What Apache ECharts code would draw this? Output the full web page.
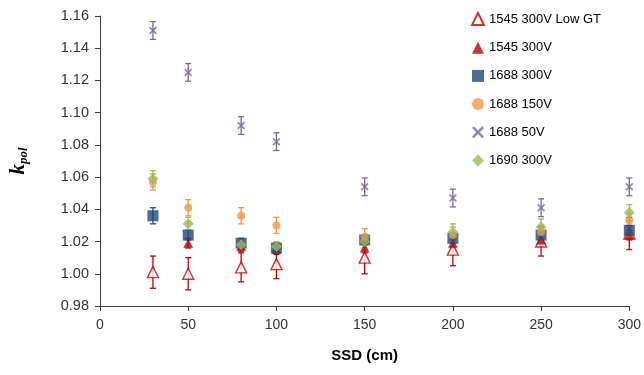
<!DOCTYPE html>
<html>
<head>
<meta charset="utf-8">
<script src="https://cdn.jsdelivr.net/npm/echarts@6/dist/echarts.min.js"></script>
<style>
  html, body { margin: 0; padding: 0; background: #fff; }
  #chart { width: 644px; height: 375px; }
</style>
</head>
<body>
<div id="chart"></div>
<script>
// SSD positions (cm)
var ssdAll = [30, 50, 80, 100, 150, 200, 250, 300];
var ssdNo30 = [50, 80, 100, 150, 200, 250, 300];

// k_pol values and error bar half-widths
var lowGT = [1.001, 1.000, 1.004, 1.006, 1.010, 1.015, 1.020, 1.025];
var lowGTErr = [0.010, 0.010, 0.009, 0.009, 0.010, 0.010, 0.009, 0.010];

var v1545 = [1.019, 1.017, 1.015, 1.016, 1.019, 1.021, 1.024];
var v1545Err = [0.003, 0.003, 0.003, 0.003, 0.003, 0.003, 0.003];

var v1688_300 = [1.036, 1.024, 1.019, 1.016, 1.021, 1.022, 1.024, 1.027];
var v1688_300Err = [0.005, 0.003, 0.003, 0.003, 0.003, 0.003, 0.003, 0.003];

var v1688_150 = [1.057, 1.041, 1.036, 1.030, 1.023, 1.024, 1.026, 1.033];
var v1688_150Err = [0.005, 0.005, 0.005, 0.005, 0.005, 0.005, 0.004, 0.004];

var v1688_50 = [1.151, 1.125, 1.092, 1.082, 1.054, 1.047, 1.041, 1.054];
var v1688_50Err = [0.0055, 0.0055, 0.0055, 0.0055, 0.0055, 0.0055, 0.0055, 0.0055];

var v1690 = [1.059, 1.031, 1.018, 1.017, 1.020, 1.026, 1.029, 1.038];
var v1690Err = [0.005, 0.004, 0.003, 0.003, 0.004, 0.005, 0.005, 0.005];

var names = ["1545 300V Low GT", "1545 300V", "1688 300V", "1688 150V", "1688 50V", "1690 300V"];

var chart = echarts.init(document.getElementById("chart"));

function pts(xs, ys) {
  return xs.map(function (x, i) { return [x, ys[i]]; });
}
function errPts(xs, ys, es) {
  return xs.map(function (x, i) { return [x, ys[i], es[i]]; });
}

// 误差线
function renderErr(params, api) {
  var x = api.value(0), y = api.value(1), e = api.value(2);
  var top = api.coord([x, y + e]);
  var bot = api.coord([x, y - e]);
  var c = api.visual("color");
  var w = 3;
  var st = { stroke: c, lineWidth: 1.3 };
  return {
    type: "group",
    children: [
      { type: "line", shape: { x1: top[0], y1: top[1], x2: bot[0], y2: bot[1] }, style: st },
      { type: "line", shape: { x1: top[0] - w, y1: top[1], x2: top[0] + w, y2: top[1] }, style: st },
      { type: "line", shape: { x1: bot[0] - w, y1: bot[1], x2: bot[0] + w, y2: bot[1] }, style: st }
    ]
  };
}
function errSeries(id, color, data) {
  return {
    type: "custom",
    name: id,
    renderItem: renderErr,
    data: data,
    itemStyle: { color: color },
    z: 1,
    silent: true
  };
}

var xMark = "path://M0,1.5 L1.5,0 L5,3.5 L8.5,0 L10,1.5 L6.5,5 L10,8.5 L8.5,10 L5,6.5 L1.5,10 L0,8.5 L3.5,5 Z";

var red = "#C00000", blue = "#1F497D", orange = "#F79646", purple = "#7F64A2", green = "#9BBB59";

var option = {
  animation: false,
  textStyle: { fontFamily: "Liberation Sans, Arial, sans-serif" },
  grid: { left: 97, right: 14, top: 16, bottom: 69 },
  legend: {
    data: names,
    orient: "vertical",
    left: 466,
    top: 7,
    itemWidth: 12,
    itemHeight: 12,
    itemGap: 15.2,
    textStyle: { fontSize: 13, color: "#000" }
  },
  xAxis: {
    type: "value",
    min: 0,
    max: 300,
    interval: 50,
    name: "SSD (cm)",
    nameLocation: "middle",
    nameGap: 42,
    nameTextStyle: { fontSize: 15, fontWeight: "bold", color: "#000" },
    splitLine: { show: false },
    axisLine: { lineStyle: { color: "#404040", width: 1 } },
    axisTick: { show: true, length: 5, lineStyle: { color: "#404040" } },
    axisLabel: { fontSize: 14, color: "#333", margin: 12 }
  },
  yAxis: {
    type: "value",
    min: 0.98,
    max: 1.16,
    interval: 0.02,
    name: "{k|k}{s|pol}",
    nameLocation: "middle",
    nameGap: 70,
    nameRotate: 90,
    nameTextStyle: {
      rich: {
        k: { fontSize: 21, fontWeight: "bold", fontStyle: "italic", color: "#000", fontFamily: "Liberation Serif, serif" },
        s: { fontSize: 13, fontWeight: "bold", fontStyle: "italic", color: "#000", fontFamily: "Liberation Serif, serif", padding: [10, 0, 0, 0] }
      }
    },
    splitLine: { show: false },
    axisLine: { show: true, lineStyle: { color: "#404040", width: 1 } },
    axisTick: { show: true, length: 5, lineStyle: { color: "#404040" } },
    axisLabel: {
      fontSize: 14.5,
      color: "#333",
      margin: 11,
      formatter: function (v) { return v.toFixed(2); }
    }
  },
  series: [
    errSeries("e0", red, errPts(ssdAll, lowGT, lowGTErr)),
    errSeries("e1", red, errPts(ssdNo30, v1545, v1545Err)),
    errSeries("e2", blue, errPts(ssdAll, v1688_300, v1688_300Err)),
    errSeries("e3", orange, errPts(ssdAll, v1688_150, v1688_150Err)),
    errSeries("e4", purple, errPts(ssdAll, v1688_50, v1688_50Err)),
    errSeries("e5", green, errPts(ssdAll, v1690, v1690Err)),
    {
      name: names[0], type: "scatter", data: pts(ssdAll, lowGT),
      symbol: "triangle", symbolSize: [11, 11], z: 3,
      itemStyle: { color: "#fff", borderColor: red, borderWidth: 1.4 }
    },
    {
      name: names[1], type: "scatter", data: pts(ssdNo30, v1545),
      symbol: "triangle", symbolSize: [10, 9], z: 3,
      itemStyle: { color: red }
    },
    {
      name: names[2], type: "scatter", data: pts(ssdAll, v1688_300),
      symbol: "rect", symbolSize: 11, z: 3,
      itemStyle: { color: blue }
    },
    {
      name: names[3], type: "scatter", data: pts(ssdAll, v1688_150),
      symbol: "circle", symbolSize: 8, z: 3,
      itemStyle: { color: orange }
    },
    {
      name: names[4], type: "scatter", data: pts(ssdAll, v1688_50),
      symbol: xMark, symbolSize: 8, z: 3,
      itemStyle: { color: purple }
    },
    {
      name: names[5], type: "scatter", data: pts(ssdAll, v1690),
      symbol: "diamond", symbolSize: 11, z: 3,
      itemStyle: { color: green }
    }
  ]
};

chart.setOption(option);
</script>
</body>
</html>
